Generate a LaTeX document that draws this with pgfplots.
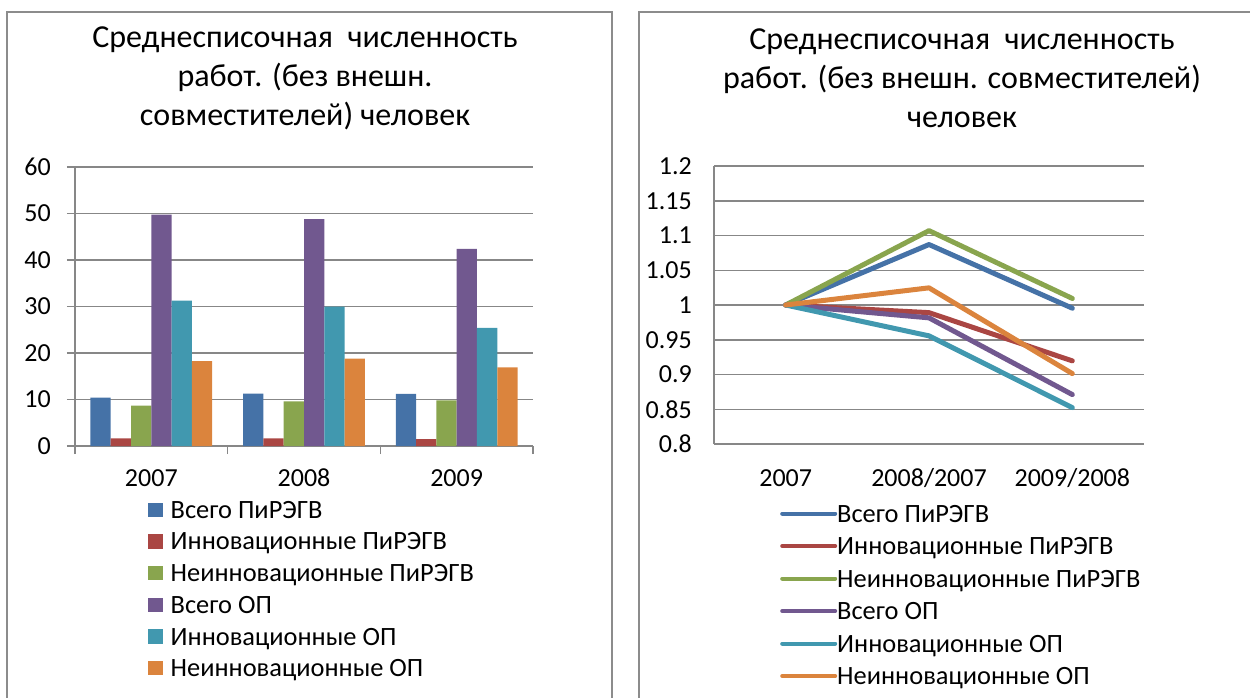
\documentclass[border=0pt]{standalone}
\usepackage{pgfplots}
\pgfplotsset{compat=1.18}
\usepackage{fontspec}
\setmainfont{Carlito}
\definecolor{cA}{HTML}{4572A7}
\definecolor{cB}{HTML}{AA4643}
\definecolor{cC}{HTML}{89A54E}
\definecolor{cD}{HTML}{71588F}
\definecolor{cE}{HTML}{4198AF}
\definecolor{cF}{HTML}{DB843D}
\definecolor{axgray}{HTML}{878787}
\definecolor{framegray}{HTML}{8C8C8C}
\pgfplotstableread{
x  a     b     c     d     e     f
0  10.4  1.65  8.67  49.75 31.25 18.28
1  11.25 1.65  9.6   48.8  30.0  18.8
2  11.2  1.5   9.8   42.4  25.4  16.9
}\bardata
\pgfplotstableread{
x  a      b      c      d      e      f
0  1      1      1      1      1      1
1  1.087  0.989  1.107  0.9815 0.9556 1.0247
2  0.9954 0.9196 1.0094 0.8711 0.8523 0.9013
}\linedata
\begin{document}
\begin{tikzpicture}[x=1pt,y=1pt]
\useasboundingbox (0,0) rectangle (1250,697);
\draw[framegray, line width=2pt] (7,-5) -- (7,685) -- (612,685) -- (612,-5);
\draw[framegray, line width=2pt] (639,-5) -- (639,685) -- (1260,685);
\node[font=\fontsize{32}{39}\selectfont, align=center] at (305,619) {Среднесписочная~ численность\\работ. (без внешн.\\совместителей) человек};
\node[font=\fontsize{32}{39}\selectfont, align=center] at (962,619) {Среднесписочная~ численность\\работ. (без внешн. совместителей)\\человек};

\begin{axis}[
  at={(75pt,251pt)}, anchor=south west,
  scale only axis, width=458pt, height=279pt,
  ybar=0pt, bar width=20.3pt,
  xmin=-0.5, xmax=2.5, ymin=0, ymax=60,
  xtick={0,1,2}, xticklabels={2007,2008,2009},
  ytick={0,10,20,30,40,50,60},
  axis lines=left, axis line style={-, axgray, line width=1.5pt},
  ymajorgrids, grid style={axgray, line width=1.5pt},
  tick align=outside, major tick length=8pt,
  tick style={axgray, line width=1.5pt},
  xtick style={draw=none},
  extra x ticks={-0.5,0.5,1.5,2.5}, extra x tick labels={},
  extra x tick style={xtick style={draw=axgray}},
  /pgf/number format/assume math mode=true,
  ticklabel style={font=\fontsize{26}{26}\selectfont},
  yticklabel style={inner sep=0pt, xshift=-16pt},
  xticklabel style={inner sep=0pt, anchor=base, yshift=-32pt},
  legend style={at={(0.1594,-0.1918)}, anchor=north west, draw=none, fill=none,
    inner sep=0pt, row sep=7.7pt, column sep=8pt,
    font=\fontsize{26.4}{26.4}\selectfont,
    nodes={inner sep=0pt, text height=18.5pt, text depth=5.5pt}},
  legend cell align=left,
  every axis plot post/.append style={legend image code/.code={\fill[##1,draw=none] (0pt,-5.2pt) rectangle (14.5pt,9.2pt);}},
]
\addplot[fill=cA, draw=none] table[x=x,y=a] {\bardata};
\addplot[fill=cB, draw=none] table[x=x,y=b] {\bardata};
\addplot[fill=cC, draw=none] table[x=x,y=c] {\bardata};
\addplot[fill=cD, draw=none] table[x=x,y=d] {\bardata};
\addplot[fill=cE, draw=none] table[x=x,y=e] {\bardata};
\addplot[fill=cF, draw=none] table[x=x,y=f] {\bardata};
\legend{Всего ПиРЭГВ, Инновационные ПиРЭГВ, Неинновационные ПиРЭГВ, Всего ОП, Инновационные ОП, Неинновационные ОП}
\end{axis}

\begin{axis}[
  at={(714pt,253pt)}, anchor=south west,
  scale only axis, width=430pt, height=278pt,
  xmin=-0.5, xmax=2.5, ymin=0.8, ymax=1.2,
  xtick={0,1,2}, xticklabels={2007,2008/2007,2009/2008},
  ytick={0.8,0.85,0.9,0.95,1,1.05,1.1,1.15,1.2},
  yticklabels={0.8,0.85,0.9,0.95,1,1.05,1.1,1.15,1.2},
  axis lines=left, axis line style={-, axgray, line width=1.5pt},
  ymajorgrids, grid style={axgray, line width=1.5pt},
  major tick length=0pt, tick style={draw=none},
  ticklabel style={font=\fontsize{26}{26}\selectfont},
  yticklabel style={inner sep=0pt, xshift=-22pt},
  xticklabel style={inner sep=0pt, anchor=base, yshift=-42pt},
  legend style={at={(0.1535,-0.2133)}, anchor=north west, draw=none, fill=none,
    inner sep=0pt, row sep=8.5pt, column sep=0pt,
    font=\fontsize{26.4}{26.4}\selectfont,
    nodes={inner sep=0pt, text height=18.5pt, text depth=5.5pt}},
  legend cell align=left,
  every axis plot post/.append style={line width=5pt, line cap=round, line join=round},
  legend image code/.code={\draw[#1, line width=4pt] (0pt,2pt) -- (53pt,2pt);},
]
\addplot[cA] table[x=x,y=a] {\linedata};
\addplot[cB] table[x=x,y=b] {\linedata};
\addplot[cC] table[x=x,y=c] {\linedata};
\addplot[cD] table[x=x,y=d] {\linedata};
\addplot[cE] table[x=x,y=e] {\linedata};
\addplot[cF] table[x=x,y=f] {\linedata};
\legend{Всего ПиРЭГВ, Инновационные ПиРЭГВ, Неинновационные ПиРЭГВ, Всего ОП, Инновационные ОП, Неинновационные ОП}
\end{axis}
\end{tikzpicture}
\end{document}
